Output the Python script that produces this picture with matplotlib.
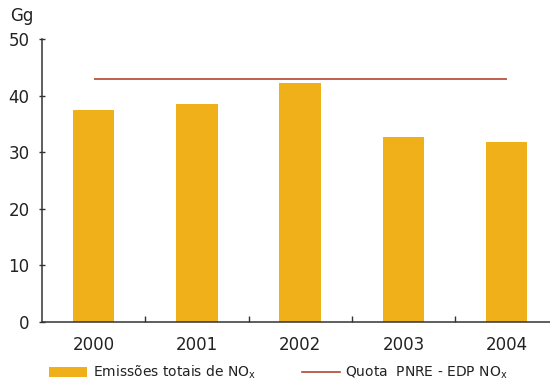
import matplotlib
matplotlib.use("Agg")
import matplotlib.pyplot as plt
from matplotlib.patches import Patch
from matplotlib.lines import Line2D

# data
years = ["2000", "2001", "2002", "2003", "2004"]
emissions = [37.5, 38.5, 42.2, 32.7, 31.8]
quota = 42.9
y_ticks = [0, 10, 20, 30, 40, 50]

bar_color = "#f0b01a"
line_color = "#b5442f"
axis_color = "#333333"

plt.rcParams["font.family"] = "DejaVu Sans"

fig = plt.figure(figsize=(5.5, 3.8), dpi=100)
ax = fig.add_axes([0.0764, 0.1526, 0.9236, 0.7448])

x = list(range(len(years)))
ax.bar(x, emissions, width=0.4, color=bar_color, zorder=2)
ax.hlines(quota, x[0], x[-1], color=line_color, linewidth=1.2, zorder=3)

ax.set_xlim(-0.5, 4.42)
ax.set_ylim(0, 50)
ax.set_yticks(y_ticks)
ax.set_yticklabels([str(v) for v in y_ticks], fontsize=12, color="#222222")
ax.set_xticks(x)
ax.set_xticklabels(years, fontsize=12, color="#222222")
ax.set_xticks([i + 0.5 for i in range(len(years) - 1)], minor=True)
ax.tick_params(axis="x", which="major", length=0, pad=10)
ax.tick_params(axis="x", which="minor", direction="in", length=4,
               color=axis_color, width=1)
ax.tick_params(axis="y", direction="inout", length=4, color=axis_color,
               width=1, pad=7)

for side in ("top", "right"):
    ax.spines[side].set_visible(False)
for side in ("left", "bottom"):
    ax.spines[side].set_color(axis_color)
    ax.spines[side].set_linewidth(1.1)

fig.text(0.018, 0.945, "Gg", fontsize=12, color="#222222")

handles = [
    Patch(facecolor=bar_color, edgecolor="none",
          label=r"Emissões totais de NO$_{\mathrm{x}}$"),
    Line2D([0], [0], color=line_color, linewidth=1.2,
           label=r"Quota  PNRE - EDP NO$_{\mathrm{x}}$"),
]
fig.legend(handles=handles, loc="lower left", bbox_to_anchor=(0.066, -0.036),
           ncol=2, frameon=False, fontsize=10, handlelength=2.75,
           handleheight=0.65, handletextpad=0.4, columnspacing=3.3,
           labelcolor="#222222")

fig.savefig("out.png", dpi=100)
